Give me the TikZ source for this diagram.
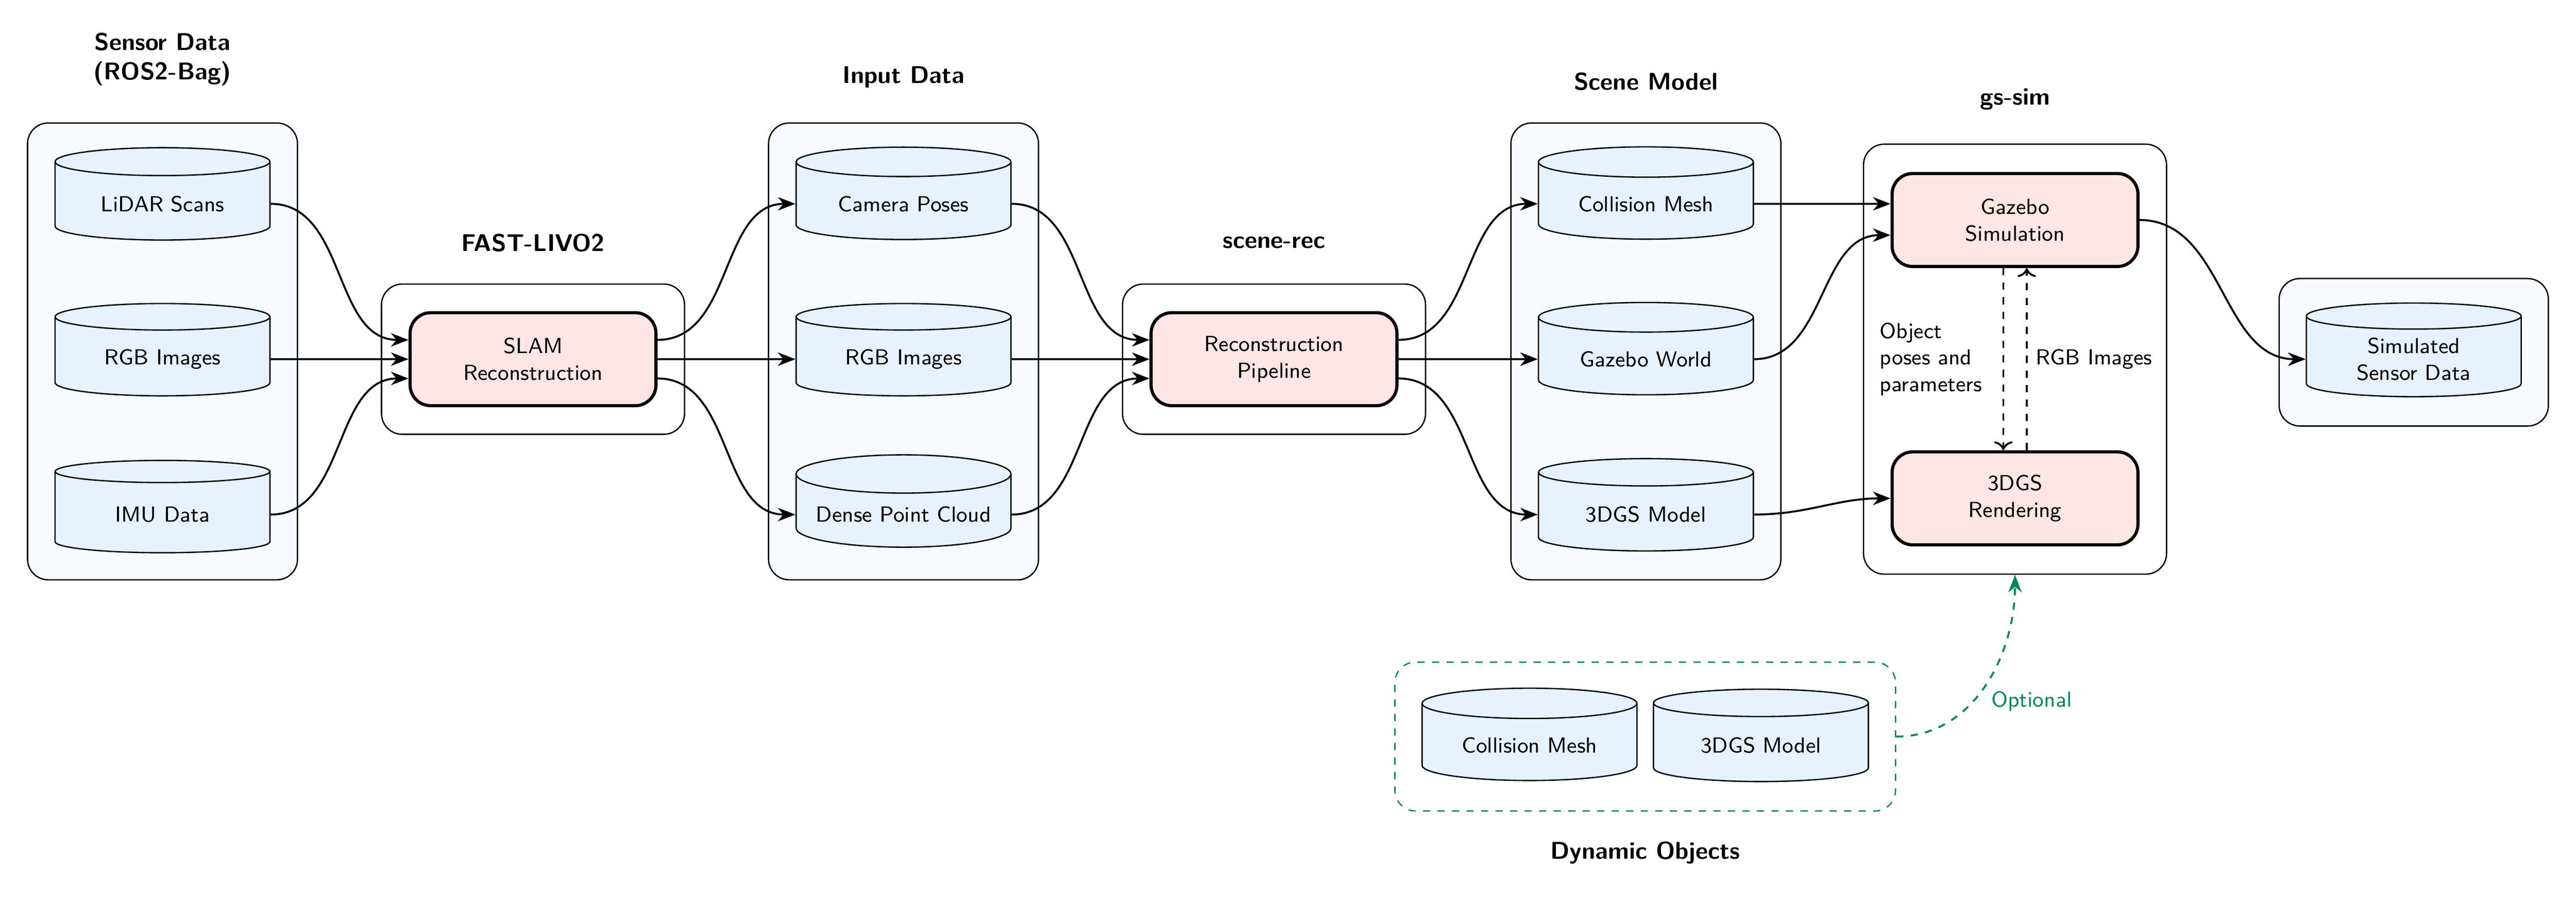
\documentclass[tikz,border=0pt]{standalone}
\usetikzlibrary{shapes.geometric, arrows.meta}
\definecolor{cylfill}{HTML}{E6F2FF}
\definecolor{groupfill}{HTML}{F7FBFF}
\definecolor{blockfill}{HTML}{FFE6E6}
\definecolor{optgreen}{HTML}{00875A}
\begin{document}
\begin{tikzpicture}[>={Stealth[length=2.55mm,width=1.95mm,inset=0.8mm]}, thick, font=\small\sffamily]
    \tikzset{
        groupbox/.style = {draw, line width=0.55pt, rectangle, rounded corners=0.3cm, minimum width=4.4cm, minimum height=2.18cm},
        tallbox/.style  = {groupbox, fill=groupfill, minimum width=3.92cm, minimum height=6.63cm},
        block/.style    = {draw, line width=1.3pt, rectangle, rounded corners=0.3cm, fill=blockfill, minimum width=3.57cm, minimum height=1.35cm, align=center},
        database/.style = {draw, line width=0.55pt, cylinder, shape border rotate=90, aspect=0.2, fill=cylfill, minimum width=3.12cm, minimum height=1.34cm, align=center},
        title/.style    = {font=\normalsize\sffamily\bfseries, align=center},
        flow/.style     = {->, out=0, in=180},
        feedback/.style = {->, dashed, >={Computer Modern Rightarrow[length=1.3mm,width=2.7mm]}},
        optional/.style = {->, dashed, optgreen}
    }
    \useasboundingbox (0,0) rectangle (37.406,-13.07);

    % sensor data
    \node[tallbox] (SENSOR) at (2.36,-5.1) {};
    \node[database, yshift=-0.113cm] (RGB1) at (SENSOR) {RGB Images};
    \node[database, above of = RGB1, node distance = 2.255cm] (LIDAR) {LiDAR Scans};
    \node[database, below of = RGB1, node distance = 2.255cm] (IMU) {IMU Data};
    \node[title, above of = SENSOR, node distance = 4.24cm] (SENSORT) {Sensor Data\\(ROS2-Bag)};

    % fast-livo2
    \node[groupbox, right of = SENSOR, node distance = 5.38cm, yshift=-0.113cm] (LIVO) {};
    \node[block] (SLAM) at (LIVO) {SLAM\\Reconstruction};
    \node[title, above of = LIVO, node distance = 1.69cm] (LIVOT) {FAST-LIVO2};

    % input data
    \node[tallbox, right of = SENSOR, node distance = 10.76cm] (INPUT) {};
    \node[database, yshift=-0.113cm] (RGB2) at (INPUT) {RGB Images};
    \node[database, above of = RGB2, node distance = 2.255cm] (POSES) {Camera Poses};
    \node[database, below of = RGB2, node distance = 2.255cm] (CLOUD) {Dense Point Cloud};
    \node[title, above of = INPUT, node distance = 3.98cm] (INPUTT) {Input Data};

    % scene-rec
    \node[groupbox, right of = LIVO, node distance = 10.76cm] (SCENEREC) {};
    \node[block] (PIPE) at (SCENEREC) {Reconstruction\\Pipeline};
    \node[title, above of = SCENEREC, node distance = 1.69cm] (SCENERECT) {scene-rec};

    % scene model
    \node[tallbox, right of = INPUT, node distance = 10.78cm] (SCENE) {};
    \node[database, yshift=-0.113cm] (WORLD) at (SCENE) {Gazebo World};
    \node[database, above of = WORLD, node distance = 2.255cm] (MESH) {Collision Mesh};
    \node[database, below of = WORLD, node distance = 2.255cm] (GS) {3DGS Model};
    \node[title, above of = SCENE, node distance = 3.92cm] (SCENET) {Scene Model};

    % gs-sim
    \node[groupbox, right of = SCENEREC, node distance = 10.76cm, minimum height=6.24cm] (GSSIM) {};
    \node[block, above of = GSSIM, node distance = 2.02cm] (GAZEBO) {Gazebo\\Simulation};
    \node[block, below of = GSSIM, node distance = 2.02cm] (RENDER) {3DGS\\Rendering};
    \node[title, above of = GSSIM, node distance = 3.77cm] (GSSIMT) {gs-sim};

    % simulated output
    \node[tallbox, right of = GSSIM, node distance = 5.79cm, yshift=0.1cm, minimum width=3.91cm, minimum height=2.14cm] (SIM) {};
    \node[database, yshift=-0.1cm] (OUTDATA) at (SIM) {Simulated\\Sensor Data};

    % dynamic objects
    \node[groupbox, dashed, draw=optgreen, minimum width=7.27cm, minimum height=2.16cm] (DYN) at (23.89,-10.69) {};
    \node[database, left of = DYN, node distance = 1.68cm, yshift=-0.125cm] (DYNMESH) {Collision Mesh};
    \node[database, right of = DYN, node distance = 1.68cm, yshift=-0.125cm] (DYNGS) {3DGS Model};
    \node[title, below of = DYN, node distance = 1.69cm] (DYNT) {Dynamic Objects};

    % arrows
    \draw[flow] (LIDAR.east) to ([yshift=0.28cm]SLAM.west);
    \draw[->] (RGB1.east) to (SLAM.west);
    \draw[flow] (IMU.east) to ([yshift=-0.28cm]SLAM.west);

    \draw[flow] ([yshift=0.28cm]SLAM.east) to (POSES.west);
    \draw[->] (SLAM.east) to (RGB2.west);
    \draw[flow] ([yshift=-0.28cm]SLAM.east) to (CLOUD.west);

    \draw[flow] (POSES.east) to ([yshift=0.28cm]PIPE.west);
    \draw[->] (RGB2.east) to (PIPE.west);
    \draw[flow] (CLOUD.east) to ([yshift=-0.28cm]PIPE.west);

    \draw[flow] ([yshift=0.28cm]PIPE.east) to (MESH.west);
    \draw[->] (PIPE.east) to (WORLD.west);
    \draw[flow] ([yshift=-0.28cm]PIPE.east) to (GS.west);

    \draw[flow] (MESH.east) to ([yshift=0.235cm]GAZEBO.west);
    \draw[flow] (WORLD.east) to ([yshift=-0.22cm]GAZEBO.west);
    \draw[flow] (GS.east) to (RENDER.west);
    \draw[flow] (GAZEBO.east) to (OUTDATA.west);

    \draw[feedback] ([xshift=-0.17cm]GAZEBO.south) to node[left, xshift=-0.18cm, align=left, name=POSELBL]{Object\\poses and\\parameters} ([xshift=-0.17cm]RENDER.north);
    \draw[feedback] ([xshift=0.17cm]RENDER.north) to node[right, name=RGBLBL]{RGB Images} ([xshift=0.17cm]GAZEBO.south);

    \draw[optional] (DYN.east) to [out=0, in=-90] node[right, pos=0.55, xshift=-0.12cm, yshift=-0.37cm, name=OPTLBL]{Optional} (GSSIM.south);
\end{tikzpicture}
\end{document}
